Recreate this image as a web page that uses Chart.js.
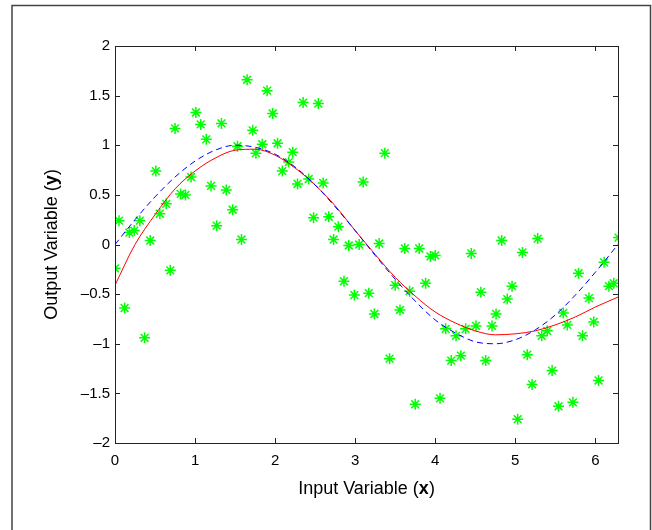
<!DOCTYPE html>
<html>
<head>
<meta charset="utf-8">
<script src="https://cdn.jsdelivr.net/npm/chart.js@4.4.1/dist/chart.umd.min.js"></script>
<style>
  html, body { margin: 0; padding: 0; background: #fff; }
  #wrap { position: relative; width: 652px; height: 530px; }
</style>
</head>
<body>
<div id="wrap"><canvas id="fitChart" width="652" height="530"></canvas></div>
<script>
// noisy samples (green stars)
const sampleX = [0.00, 0.05, 0.12, 0.18, 0.24, 0.31, 0.37, 0.44, 0.51, 0.56, 0.64, 0.69, 0.75, 0.82, 0.88, 0.95,
  1.01, 1.07, 1.14, 1.20, 1.27, 1.33, 1.39, 1.47, 1.53, 1.58, 1.65, 1.72, 1.76, 1.84, 1.90, 1.97,
  2.03, 2.09, 2.17, 2.22, 2.28, 2.35, 2.42, 2.48, 2.54, 2.60, 2.67, 2.73, 2.79, 2.86, 2.92, 2.99,
  3.05, 3.10, 3.17, 3.24, 3.30, 3.37, 3.43, 3.50, 3.56, 3.62, 3.68, 3.75, 3.80, 3.88, 3.94, 4.00,
  4.06, 4.13, 4.20, 4.26, 4.32, 4.38, 4.45, 4.51, 4.57, 4.63, 4.71, 4.76, 4.83, 4.90, 4.96, 5.03,
  5.09, 5.15, 5.21, 5.28, 5.33, 5.40, 5.46, 5.54, 5.60, 5.65, 5.72, 5.79, 5.84, 5.92, 5.98, 6.04,
  6.11, 6.17, 6.23, 6.29];
const sampleY = [-0.24, 0.24, -0.64, 0.12, 0.14, 0.24, -0.94, 0.04, 0.74, 0.31, 0.41, -0.26, 1.17, 0.51, 0.50, 0.68,
  1.33, 1.21, 1.06, 0.59, 0.19, 1.22, 0.55, 0.35, 0.99, 0.05, 1.66, 1.15, 0.92, 1.01, 1.55, 1.32,
  1.02, 0.74, 0.83, 0.93, 0.61, 1.43, 0.66, 0.27, 1.42, 0.62, 0.28, 0.05, 0.18, -0.37, -0.01, -0.51,
  0.00, 0.63, -0.49, -0.70, 0.01, 0.92, -1.15, -0.41, -0.66, -0.04, -0.47, -1.61, -0.04, -0.39, -0.12, -0.11,
  -1.55, -0.85, -1.17, -0.92, -1.12, -0.85, -0.09, -0.82, -0.48, -1.17, -0.82, -0.70, 0.04, -0.55, -0.42, -1.76,
  -0.08, -1.11, -1.41, 0.06, -0.92, -0.87, -1.27, -1.63, -0.69, -0.81, -1.59, -0.29, -0.92, -0.54, -0.78, -1.37,
  -0.18, -0.42, -0.39, 0.07];

// curves
const curveX = [0, 0.25, 0.5, 0.75, 1.0, 1.25, 1.5, 1.75, 2.0, 2.25, 2.5, 2.75, 3.0, 3.25,
  3.5, 3.75, 4.0, 4.25, 4.5, 4.75, 5.0, 5.25, 5.5, 5.75, 6.0, 6.283];
const fitY = [-0.41, 0.00, 0.30, 0.56, 0.74, 0.87, 0.95, 0.96, 0.90, 0.77, 0.60, 0.39, 0.14, -0.10,
  -0.33, -0.52, -0.68, -0.79, -0.87, -0.91, -0.90, -0.87, -0.81, -0.73, -0.63, -0.53];
const trueY = [0.00, 0.25, 0.48, 0.68, 0.84, 0.95, 1.00, 0.98, 0.91, 0.78, 0.60, 0.38, 0.14, -0.11,
  -0.35, -0.57, -0.76, -0.89, -0.98, -1.00, -0.96, -0.86, -0.71, -0.51, -0.28, 0.00];

const xTicks = [0, 1, 2, 3, 4, 5, 6];
const yTicks = [-2, -1.5, -1, -0.5, 0, 0.5, 1, 1.5, 2];

const FONT = "'Liberation Sans', Arial, Helvetica, sans-serif";

function toPoints(xs, ys) {
  return xs.map((x, i) => ({ x: x, y: ys[i] }));
}

function fmt(v) {
  return v < 0 ? "\u2013" + String(-v) : String(v);
}

// outer frame, axes box with inward ticks, and the axis titles
const matlabFrame = {
  id: "matlabFrame",
  beforeDraw(chart) {
    const ctx = chart.ctx;
    ctx.save();
    ctx.fillStyle = "#fff";
    ctx.fillRect(0, 0, chart.width, chart.height);
    ctx.strokeStyle = "#444";
    ctx.lineWidth = 1.5;
    ctx.strokeRect(12, 5.5, 638.5, 600);
    ctx.restore();
  },
  afterDraw(chart) {
    const ctx = chart.ctx;
    const a = chart.chartArea;
    const xs = chart.scales.x;
    const ys = chart.scales.y;
    ctx.save();
    ctx.strokeStyle = "#222";
    ctx.lineWidth = 1;
    ctx.strokeRect(a.left + 0.5, a.top + 0.5, a.right - a.left, a.bottom - a.top);
    ctx.beginPath();
    xTicks.forEach(v => {
      const px = Math.round(xs.getPixelForValue(v)) + 0.5;
      ctx.moveTo(px, a.bottom);
      ctx.lineTo(px, a.bottom - 5);
      ctx.moveTo(px, a.top);
      ctx.lineTo(px, a.top + 5);
    });
    yTicks.forEach(v => {
      const py = Math.round(ys.getPixelForValue(v)) + 0.5;
      ctx.moveTo(a.left, py);
      ctx.lineTo(a.left + 5, py);
      ctx.moveTo(a.right, py);
      ctx.lineTo(a.right - 5, py);
    });
    ctx.stroke();

    ctx.fillStyle = "#000";
    ctx.textBaseline = "middle";
    const parts = (label, bold) => [
      { t: label + " (", f: "18px " + FONT },
      { t: bold, f: "bold 18px " + FONT },
      { t: ")", f: "18px " + FONT }
    ];
    const drawParts = (list, cx, cy) => {
      let total = 0;
      list.forEach(p => { ctx.font = p.f; p.w = ctx.measureText(p.t).width; total += p.w; });
      let x = cx - total / 2;
      ctx.textAlign = "left";
      list.forEach(p => { ctx.font = p.f; ctx.fillText(p.t, x, cy); x += p.w; });
    };
    drawParts(parts("Input Variable", "x"), (a.left + a.right) / 2, 489);
    ctx.translate(52, (a.top + a.bottom) / 2);
    ctx.rotate(-Math.PI / 2);
    drawParts(parts("Output Variable", "y"), 0, 0);
    ctx.restore();
  }
};

new Chart(document.getElementById("fitChart"), {
  type: "scatter",
  data: {
    datasets: [
      {
        label: "target",
        data: toPoints(curveX, trueY),
        showLine: true,
        borderColor: "#0000ff",
        borderWidth: 1,
        borderDash: [6, 4],
        pointRadius: 0,
        cubicInterpolationMode: "monotone",
        order: 1
      },
      {
        label: "fit",
        data: toPoints(curveX, fitY),
        showLine: true,
        borderColor: "#ff0000",
        borderWidth: 1,
        pointRadius: 0,
        cubicInterpolationMode: "monotone",
        order: 2
      },
      {
        label: "samples",
        data: toPoints(sampleX, sampleY),
        pointStyle: "star",
        pointRadius: 5.5,
        pointBorderWidth: 1.5,
        borderColor: "#00ff00",
        backgroundColor: "#00ff00",
        order: 3
      }
    ]
  },
  plugins: [matlabFrame],
  options: {
    responsive: false,
    animation: false,
    layout: { padding: { top: 46, right: 34, left: 0, bottom: 0 } },
    plugins: {
      legend: { display: false },
      tooltip: { enabled: false }
    },
    scales: {
      x: {
        type: "linear",
        min: 0,
        max: 6.2832,
        grid: { display: false, drawTicks: false, tickLength: 0 },
        border: { display: false },
        afterBuildTicks: scale => { scale.ticks = xTicks.map(v => ({ value: v })); },
        afterFit: scale => { scale.height = 87; },
        ticks: {
          padding: 9,
          color: "#000",
          font: { family: FONT, size: 15 },
          maxRotation: 0,
          callback: v => fmt(v)
        }
      },
      y: {
        type: "linear",
        min: -2,
        max: 2,
        grid: { display: false, drawTicks: false, tickLength: 0 },
        border: { display: false },
        afterBuildTicks: scale => { scale.ticks = yTicks.map(v => ({ value: v })); },
        afterFit: scale => { scale.width = 115; },
        ticks: {
          padding: 5,
          color: "#000",
          font: { family: FONT, size: 15 },
          callback: v => fmt(v)
        }
      }
    }
  }
});
</script>
</body>
</html>
